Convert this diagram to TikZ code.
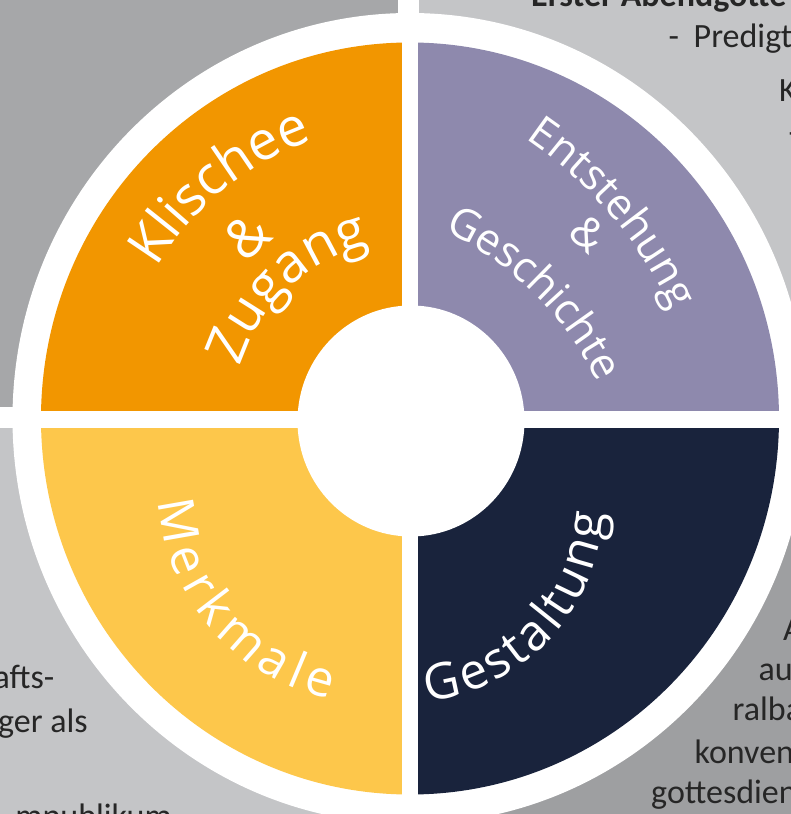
\documentclass[tikz,border=0pt]{standalone}
\usepackage{fontspec}
\setmainfont{Carlito}
\newfontfamily\labelfamily{Open Sans}
\usetikzlibrary{decorations.text}
\definecolor{bgdark}{RGB}{166,167,169}
\definecolor{bglight}{RGB}{196,197,199}
\definecolor{bgdarker}{RGB}{158,159,161}
\definecolor{klorange}{RGB}{242,150,0}
\definecolor{entpurple}{RGB}{142,137,173}
\definecolor{merkyellow}{RGB}{253,199,75}
\definecolor{gestnavy}{RGB}{25,35,60}
\definecolor{bodygray}{RGB}{38,38,38}
\newcommand\bigwhite{\labelfamily\fontsize{54}{54}\selectfont\color{white}}
\newcommand\midwhite{\labelfamily\fontsize{43}{43}\selectfont\color{white}}
\newcommand\spacedwhite{\labelfamily\fontsize{50}{50}\selectfont\color{white}}

\begin{document}
\begin{tikzpicture}[x=1pt, y=1pt,
    bodytext/.style={font=\fontsize{34}{34}\selectfont, text=bodygray, inner sep=0pt},
    arclabel/.style={decorate, decoration={text along path, text align=center, text={#1}}},
    spreadlabel/.style={decorate, decoration={text along path, text align=fit to path, text={#1}}}]

    \useasboundingbox (-410,-395.5) rectangle (381,418.5);
    \clip (-410,-395.5) rectangle (381,418.5);
    \coordinate (O) at (0,0);

    % grey panels behind the wheel
    \fill[bgdark] (-430,11.5) rectangle (-12,440);
    \fill[bglight] (9,11.5) rectangle (400,440);
    \fill[bglight] (-430,-9.5) rectangle (-12,-420);
    \fill[bgdarker] (9,-9.5) rectangle (400,-420);

    \node[bodytext, font=\bfseries\fontsize{34}{34}\selectfont, anchor=base west] at (121,411.5) (abend) {Erster Abendgotte};
    \node[bodytext, anchor=base west] at (258.5,370.5) (dashA) {-};
    \node[bodytext, anchor=base west] at (283.5,370.5) (predigt) {Predigt};
    \node[bodytext, anchor=base west] at (369,316.5) (kline) {K};
    \node[bodytext, anchor=base west] at (378.5,274.5) (dashB) {-};

    \node[bodytext, anchor=base east] at (-355.5,-269.5) (afts) {afts-};
    \node[bodytext, anchor=base east] at (-322,-313.5) (geral) {ger als};
    \node[bodytext, anchor=base east] at (-238,-408.5) (publikum) {mpublikum};

    \node[bodytext, anchor=base west] at (373,-221.5) (lineA) {A};
    \node[bodytext, anchor=base west] at (348.5,-261.5) (lineau) {au};
    \node[bodytext, anchor=base west] at (322.5,-301.5) (ralba) {ralba};
    \node[bodytext, anchor=base west] at (284.5,-344.5) (konven) {konven};
    \node[bodytext, anchor=base west] at (241,-384.5) (gottesd) {gottesdien};

    % the wheel
    \fill[white] (O) ellipse[x radius=397.5pt, y radius=405.5pt];
    \foreach \col/\a in {klorange/90, entpurple/0, merkyellow/180, gestnavy/270}
        \fill[\col] (O) -- (\a:369pt and 376pt) arc[start angle=\a, end angle=\a+90, x radius=369pt, y radius=376pt] -- cycle;
    \fill[white] (-8,-390) rectangle (8,390);
    \fill[white] (-380,-9.5) rectangle (380,7.5);
    \fill[white] (1,-2.5) ellipse[x radius=113.5pt, y radius=115.5pt];

    % labels
    \path[arclabel={|\bigwhite|Klischee}] (O) ++(164.3:295pt) arc[start angle=164.3, end angle=94.3, radius=295pt];
    \node[text=white, font=\bigwhite, rotate=40] at (-163,182) (ampA) {\&};
    \path[arclabel={|\bigwhite|Zugang}] (O) ++(168:178pt) arc[start angle=168, end angle=98, radius=178pt];

    \path[arclabel={|\midwhite|Entstehung}] (-121,-71) ++(60.5:423pt) arc[start angle=60.5, end angle=20.5, radius=423pt];
    \node[text=white, font=\midwhite, rotate=-43] at (178,185) (ampB) {\&};
    \path[arclabel={|\midwhite|Geschichte}] (-104,-107) ++(65.5:325pt) arc[start angle=65.5, end angle=25.5, radius=325pt];

    \path[spreadlabel={|\spacedwhite|Merkmale}] (-35,-68) ++(184:217pt) arc[start angle=184, end angle=258, radius=217pt];
    \path[spreadlabel={|\spacedwhite|Gestaltung}] (-7,-84) ++(277:201pt) arc[start angle=277, end angle=357, radius=201pt];

\end{tikzpicture}
\end{document}
